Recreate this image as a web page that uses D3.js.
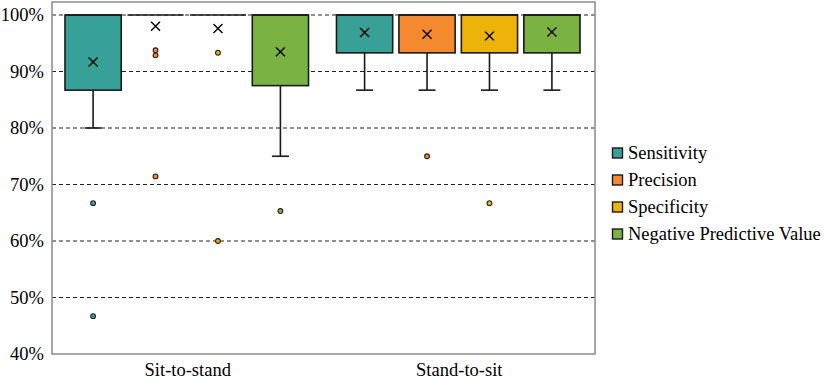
<!DOCTYPE html>
<html>
<head>
<meta charset="utf-8">
<script src="https://cdn.jsdelivr.net/npm/d3@7"></script>
<style>
  body { margin: 0; background: #fff; }
  svg text { font-family: "Liberation Serif", Tinos, "Times New Roman", Times, "DejaVu Serif", serif !important; }
</style>
</head>
<body>
<div id="chart"></div>
<script>
// categories and series
let categories = ["Sit-to-stand", "Stand-to-sit"];
let series = ["Sensitivity", "Precision", "Specificity", "Negative Predictive Value"];
let colors = ["#37A097", "#F5892F", "#EEB308", "#7BB342"];

// box stats per category, in series order (percent)
let q1 = [[86.7, 100, 100, 87.5], [93.3, 93.3, 93.3, 93.3]];
let median = [[100, 100, 100, 100], [100, 100, 100, 100]];
let q3 = [[100, 100, 100, 100], [100, 100, 100, 100]];
let whiskerLow = [[80, 100, 100, 75], [86.7, 86.7, 86.7, 86.7]];
let whiskerHigh = [[100, 100, 100, 100], [100, 100, 100, 100]];
let means = [[91.7, 98.0, 97.6, 93.5], [96.9, 96.6, 96.3, 97.0]];
let outliers = [
  [[66.7, 46.7], [93.75, 92.86, 71.43], [93.33, 60], [65.3]],
  [[], [75], [66.7], []]
];
let yTicks = [40, 50, 60, 70, 80, 90, 100];

let width = 829, height = 382;
let margin = { left: 52, right: 234, top: 2, bottom: 28 };

let svg = d3.select("#chart").append("svg")
  .attr("width", width).attr("height", height);

let x0 = d3.scaleBand().domain(categories)
  .range([margin.left, width - margin.right]).padding(0);
let x1 = d3.scaleBand().domain(series)
  .range([13, x0.bandwidth() - 15]).paddingInner(0.1);
let y = d3.scaleLinear().domain([40, 102.3])
  .range([height - margin.bottom, margin.top]);

// grid lines
svg.append("g")
  .selectAll("line")
  .data(yTicks.filter(d => d > 40))
  .enter().append("line")
  .attr("x1", margin.left).attr("x2", width - margin.right)
  .attr("y1", d => y(d)).attr("y2", d => y(d))
  .attr("stroke", "#222").attr("stroke-width", 1.2)
  .attr("stroke-dasharray", "4,3");

// frame
svg.append("rect")
  .attr("x", margin.left).attr("y", margin.top)
  .attr("width", width - margin.right - margin.left)
  .attr("height", height - margin.bottom - margin.top)
  .attr("fill", "none").attr("stroke", "#8a8a8a").attr("stroke-width", 1.5);

// y axis labels
let yAxis = svg.append("g")
  .attr("transform", `translate(${margin.left - 8},0)`)
  .call(d3.axisLeft(y).tickValues(yTicks).tickSize(0).tickFormat(d => d + "%"));
yAxis.select(".domain").remove();
yAxis.attr("font-family", null);
yAxis.selectAll("text")
  .attr("x", 0)
  .style("font-size", "18.5px").attr("fill", "#000");

// x axis labels
let xAxis = svg.append("g")
  .attr("transform", `translate(0,${height - margin.bottom})`)
  .call(d3.axisBottom(x0).tickSize(0));
xAxis.select(".domain").remove();
xAxis.attr("font-family", null);
xAxis.selectAll("text")
  .attr("y", 9)
  .style("font-size", "18.5px").attr("fill", "#000");

// build box records
let boxes = [];
categories.forEach((c, ci) => {
  series.forEach((s, si) => {
    boxes.push({
      cat: c, ser: s, color: colors[si],
      q1: q1[ci][si], med: median[ci][si], q3: q3[ci][si],
      lo: whiskerLow[ci][si], hi: whiskerHigh[ci][si],
      mean: means[ci][si], out: outliers[ci][si]
    });
  });
});

let bw = x1.bandwidth();
let g = svg.append("g").selectAll("g")
  .data(boxes).enter().append("g")
  .attr("transform", d => `translate(${x0(d.cat) + x1(d.ser)},0)`);

// whiskers
g.append("line")
  .attr("x1", bw / 2).attr("x2", bw / 2)
  .attr("y1", d => y(d.q1)).attr("y2", d => y(d.lo))
  .attr("stroke", "#1a1a1a").attr("stroke-width", 1.6);
g.filter(d => d.lo < d.q1).append("line")
  .attr("x1", bw / 2 - 8.5).attr("x2", bw / 2 + 8.5)
  .attr("y1", d => y(d.lo)).attr("y2", d => y(d.lo))
  .attr("stroke", "#1a1a1a").attr("stroke-width", 1.6);

// boxes
g.append("rect")
  .attr("x", 0).attr("width", bw)
  .attr("y", d => y(d.q3))
  .attr("height", d => y(d.q1) - y(d.q3))
  .attr("fill", d => d.color)
  .attr("stroke", "#1a1a1a").attr("stroke-width", 1.6);

// median line
g.append("line")
  .attr("x1", 0).attr("x2", bw)
  .attr("y1", d => y(d.med)).attr("y2", d => y(d.med))
  .attr("stroke", "#1a1a1a").attr("stroke-width", 1.6);

// mean marker
let sz = 4.5;
g.append("path")
  .attr("d", d => {
    let cx = bw / 2, cy = y(d.mean);
    return `M${cx - sz},${cy - sz}L${cx + sz},${cy + sz}M${cx - sz},${cy + sz}L${cx + sz},${cy - sz}`;
  })
  .attr("stroke", "#000").attr("stroke-width", 1.4).attr("fill", "none");

// outliers
g.selectAll("circle")
  .data(d => d.out.map(v => ({ v: v, color: d.color })))
  .enter().append("circle")
  .attr("cx", bw / 2).attr("cy", d => y(d.v)).attr("r", 2.4)
  .attr("fill", d => d.color)
  .attr("stroke", "#222").attr("stroke-width", 1.1);

// legend
let legend = svg.append("g")
  .attr("transform", "translate(612,153)")
  .selectAll("g").data(series).enter().append("g")
  .attr("transform", (d, i) => `translate(0,${i * 27})`);
legend.append("rect")
  .attr("x", 0.5).attr("y", -5).attr("width", 10).attr("height", 10)
  .attr("fill", (d, i) => colors[i])
  .attr("stroke", "#1a1a1a").attr("stroke-width", 1.4);
legend.append("text")
  .attr("x", 16).attr("y", 0).attr("dy", "0.35em")
  .style("font-size", "18.5px")
  .text(d => d);
</script>
</body>
</html>
